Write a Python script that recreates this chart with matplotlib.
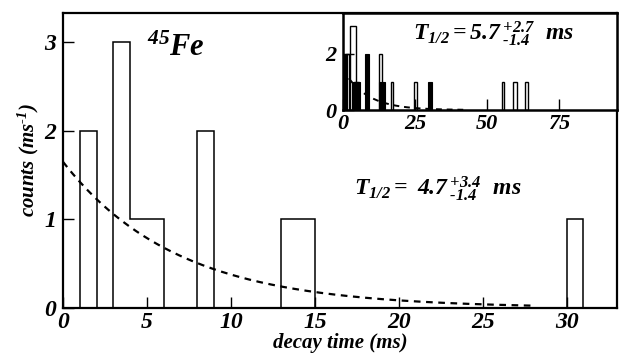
import numpy as np
import matplotlib
matplotlib.use("Agg")
import matplotlib.pyplot as plt

plt.rcParams['font.family'] = 'Liberation Serif'
plt.rcParams['font.weight'] = 'bold'
plt.rcParams['font.style'] = 'italic'
plt.rcParams['axes.labelweight'] = 'bold'
plt.rcParams['mathtext.fontset'] = 'custom'
plt.rcParams['mathtext.rm'] = 'Liberation Serif:bold:italic'
plt.rcParams['mathtext.it'] = 'Liberation Serif:bold:italic'
plt.rcParams['mathtext.bf'] = 'Liberation Serif:bold:italic'

# main histogram (1 ms bins)
bin_edges = np.arange(0, 34)
bin_counts = np.zeros(33)
hit_bins = [1, 3, 4, 5, 8, 13, 14, 30]
hit_counts = [2, 3, 1, 1, 2, 1, 1, 1]
bin_counts[hit_bins] = hit_counts

# exponential fit
fit_amp = 1.65
fit_half_life = 4.7
fit_end = 28

# inset histogram
inset_open_left = [1.0, 2.5, 4.0, 12.5, 16.5, 24.5, 55.0, 59.0, 63.0]
inset_open_width = [1.0, 2.0, 1.5, 1.2, 1.0, 1.2, 1.0, 1.2, 1.2]
inset_open_height = [2, 3, 1, 2, 1, 1, 1, 1, 1]
inset_fill_left = [0.0, 3.0, 7.5, 12.5, 29.5]
inset_fill_width = [1.5, 3.0, 1.5, 2.0, 1.5]
inset_fill_height = [2, 1, 2, 1, 1]
inset_amp = 1.45
inset_half_life = 5.7
inset_fit_end = 42

fig = plt.figure(figsize=(6.19, 3.56), dpi=100)
ax = fig.add_axes([0.1018, 0.1348, 0.895, 0.8287])

ax.stairs(bin_counts, bin_edges, baseline=0, fill=False, color='black', lw=1.1)
t = np.linspace(0, fit_end, 200)
ax.plot(t, fit_amp * np.exp(-np.log(2) / fit_half_life * t), 'k--', lw=1.6, dashes=(3, 2.5))

ax.set_xlim(0, 33)
ax.set_ylim(0, 3.33)
ax.set_xticks([0, 5, 10, 15, 20, 25, 30])
ax.set_yticks([0, 1, 2, 3])
ax.tick_params(direction='in', length=8, width=1, labelsize=17)
ax.tick_params(axis='x', pad=3)
ax.tick_params(axis='y', pad=5)
for s in ax.spines.values():
    s.set_linewidth(1.6)
ax.set_xlabel('decay time (ms)', fontsize=15, labelpad=0)
ax.set_ylabel(r'counts (ms$^{\text{-1}}$)', fontsize=15, labelpad=2)

ax.text(5.0, 2.93, '$^{45}$Fe', fontsize=22, va='center', ha='left')
ax.text(22.3, 1.35, r'$T_{1/2} = \ 4.7\,^{+3.4}_{\text{-1.4}}\ \ ms$', fontsize=17,
        ha='center', va='center')

# inset
ins = fig.add_axes([0.554, 0.691, 0.4427, 0.2725])
ins.bar(inset_open_left, inset_open_height, width=inset_open_width, align='edge',
        fill=False, edgecolor='black', lw=1.0)
ins.bar(inset_fill_left, inset_fill_height, width=inset_fill_width, align='edge',
        color='black', edgecolor='black', lw=0.8)
ti = np.linspace(0, inset_fit_end, 200)
ins.plot(ti, inset_amp * np.exp(-np.log(2) / inset_half_life * ti), 'k--', lw=1.4, dashes=(3, 2.5))
ins.set_xlim(0, 95)
ins.set_ylim(0, 3.46)
ins.set_xticks([0, 25, 50, 75])
ins.set_yticks([0, 2])
ins.tick_params(direction='in', length=8, width=1, labelsize=16)
ins.tick_params(axis='x', pad=3)
ins.tick_params(axis='y', pad=5)
for s in ins.spines.values():
    s.set_linewidth(1.8)
ins.text(0.55, 0.79, r'$T_{1/2} = 5.7\,^{+2.7}_{\text{-1.4}}\ \ ms$', fontsize=17,
         ha='center', va='center', transform=ins.transAxes)

fig.savefig('out.png', dpi=100)
